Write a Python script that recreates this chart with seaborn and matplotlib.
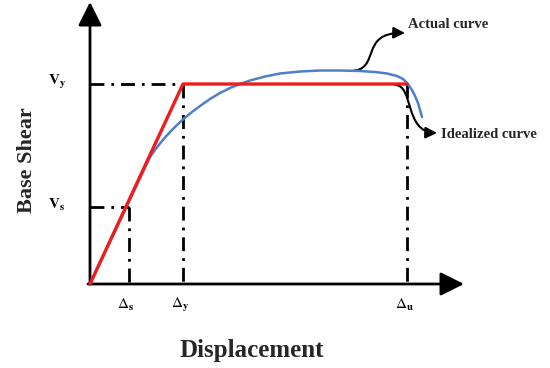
import matplotlib
matplotlib.use("Agg")
import matplotlib.pyplot as plt
import seaborn as sns
import pandas as pd
from matplotlib.path import Path
from matplotlib.patches import FancyArrowPatch

# key points of the pushover idealisation (schematic units)
disp_s, disp_y, disp_u = 39, 93, 317
shear_s, shear_y = 77, 200

# idealized (bilinear) curve
ideal_x = [0, disp_y, disp_u]
ideal_y = [0, shear_y, shear_y]

# actual capacity curve
actual_x = [0, 60, 65, 70, 75, 80, 87, 94, 102, 110, 120, 130, 140, 150, 160,
            175, 190, 210, 230, 250, 270, 285, 297, 307, 313, 318, 322, 325,
            328, 330, 332]
actual_y = [0, 127, 134, 140.5, 146.5, 152, 159, 165.5, 172, 178, 185, 191, 196,
            200, 203.5, 207.5, 210.5, 212.5, 213.5, 213.5, 213, 212, 210.5, 208,
            205, 200, 194, 188, 181, 174, 167]

tick_x = [disp_s, disp_y, disp_u]
tick_x_labels = [r'$\Delta_\mathbf{s}$', r'$\Delta_\mathbf{y}$', r'$\Delta_\mathbf{u}$']
tick_y = [shear_s, shear_y]
tick_y_labels = [r'$\mathbf{V_s}$', r'$\mathbf{V_y}$']

sns.set_theme(style="white")
plt.rcParams['font.family'] = ['Liberation Serif', 'DejaVu Serif']
plt.rcParams['mathtext.fontset'] = 'stix'

fig = plt.figure(figsize=(5.5, 3.68), dpi=100)
ax = fig.add_axes([0, 0, 1, 1])

# dash-dot guides
dd = (0, (5, 2.5, 1, 2.5))
for xv, yv in [(disp_s, shear_s), (disp_y, shear_y)]:
    ax.plot([0, xv], [yv, yv], color='black', lw=2, ls=dd)
for xv, yv in [(disp_s, shear_s), (disp_y, shear_y), (disp_u, shear_y)]:
    ax.plot([xv, xv], [yv, 0], color='black', lw=2, ls=dd)

df_a = pd.DataFrame({'x': actual_x, 'y': actual_y})
df_i = pd.DataFrame({'x': ideal_x, 'y': ideal_y})
sns.lineplot(data=df_a, x='x', y='y', ax=ax, color='#4f7fc9', lw=1.8, sort=False)
sns.lineplot(data=df_i, x='x', y='y', ax=ax, color='#ee1c1c', lw=2.4, sort=False)
ax.set_xlim(-90, 460)
ax.set_ylim(-84, 284)
ax.axis('off')

# axes with arrow heads
ax.add_patch(FancyArrowPatch((-2, 0), (374, 0), arrowstyle='-|>', mutation_scale=36,
                             lw=2, color='black', shrinkA=0, shrinkB=0))
ax.add_patch(FancyArrowPatch((0, 0), (0, 282), arrowstyle='-|>', mutation_scale=36,
                             lw=2, color='black', shrinkA=0, shrinkB=0))

# tick labels
for xv, lab in zip(tick_x, tick_x_labels):
    ax.text(xv - 3, -21, lab, ha='center', va='center', fontsize=11, color='black')
for yv, lab in zip(tick_y, tick_y_labels):
    ax.text(-33, yv + 2, lab, ha='center', va='center', fontsize=11, color='black')

ax.text(162, -66, 'Displacement', ha='center', va='center', fontsize=18, fontweight='bold')
ax.text(-63, 124, 'Base Shear', ha='center', va='center', fontsize=16, fontweight='bold',
        rotation=90)

# curved pointer arrows
p1 = Path([(260, 213), (292, 213), (268, 252), (315, 251)],
          [Path.MOVETO, Path.CURVE4, Path.CURVE4, Path.CURVE4])
ax.add_patch(FancyArrowPatch(path=p1, arrowstyle='-|>', mutation_scale=17, lw=1.5,
                             color='black'))
p2 = Path([(305, 199), (324, 199), (314, 152), (347, 151)],
          [Path.MOVETO, Path.CURVE4, Path.CURVE4, Path.CURVE4])
ax.add_patch(FancyArrowPatch(path=p2, arrowstyle='-|>', mutation_scale=17, lw=1.5,
                             color='black'))
ax.text(318, 259, 'Actual curve', ha='left', va='center', fontsize=10.5, fontweight='bold')
ax.text(351, 149, 'Idealized curve', ha='left', va='center', fontsize=10.5, fontweight='bold')

fig.savefig('out.png', dpi=100)
